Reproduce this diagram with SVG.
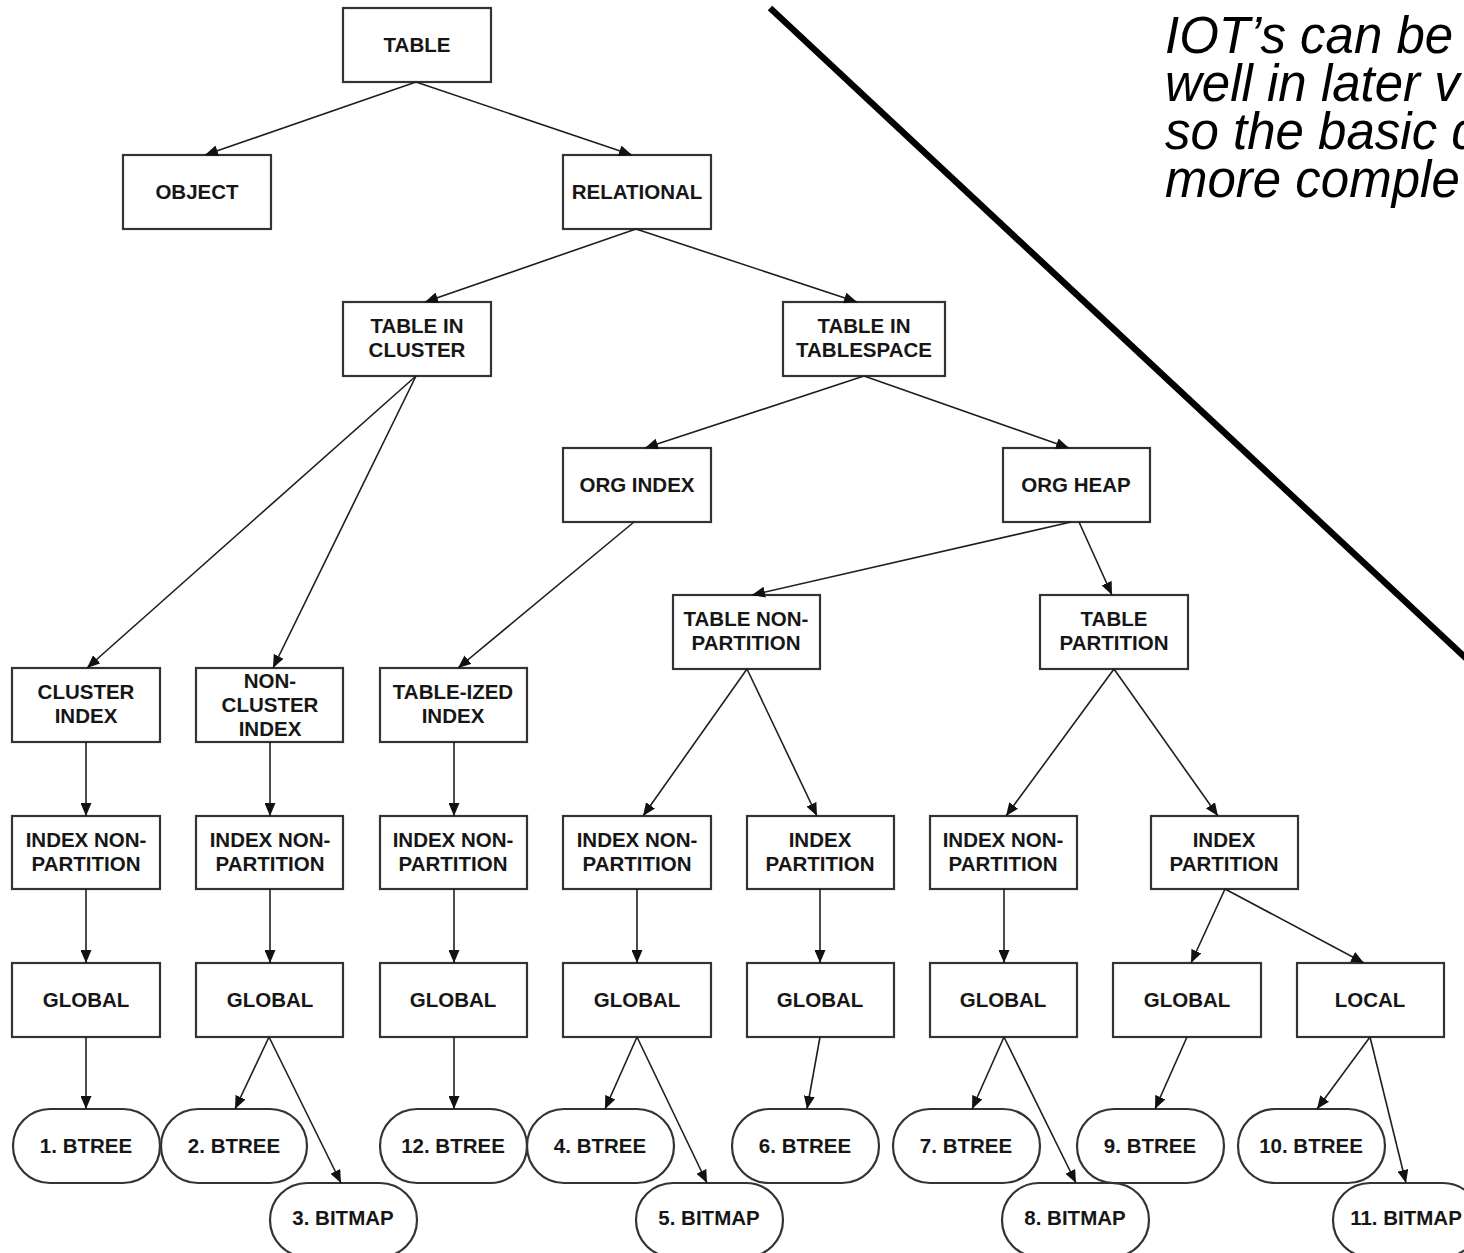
<svg xmlns="http://www.w3.org/2000/svg" width="1464" height="1253" viewBox="0 0 1464 1253">
<defs>
<style>
.n rect{fill:#fff;stroke:#333;stroke-width:2.2}
.n text{font-family:"Liberation Sans",Arial,sans-serif;font-weight:bold;font-size:20.5px;fill:#161616;text-anchor:middle}
.c line{stroke:#1e1e1e;stroke-width:1.6;marker-end:url(#ah)}
.note{font-family:"Liberation Sans",Arial,sans-serif;font-style:italic;font-size:51px;fill:#000}
</style>
<marker id="ah" viewBox="0 0 13 11" markerWidth="13" markerHeight="11" refX="13" refY="5.5" orient="auto" markerUnits="userSpaceOnUse">
<path d="M0,0 L13,5.5 L0,11 z" fill="#111"/>
</marker>
</defs>
<rect width="1464" height="1253" fill="#fff"/>

<line x1="770" y1="8" x2="1470" y2="662" stroke="#000" stroke-width="6.5"/>
<g id="note">
<text class="note"><tspan x="1165" y="53">IOT’s can be</tspan><tspan x="1165" y="101">well in later v</tspan><tspan x="1165" y="149">so the basic d</tspan><tspan x="1165" y="197">more comple</tspan></text>
</g>

<g id="n-table" class="n"><rect x="343" y="8" width="148" height="74"/><text x="417" y="52">TABLE</text></g>
<g id="n-object" class="n"><rect x="123" y="155" width="148" height="74"/><text x="197" y="199">OBJECT</text></g>
<g id="n-relational" class="n"><rect x="563" y="155" width="148" height="74"/><text x="637" y="199">RELATIONAL</text></g>
<g id="n-tic" class="n"><rect x="343" y="302" width="148" height="74"/><text x="417" y="333">TABLE IN</text><text x="417" y="357">CLUSTER</text></g>
<g id="n-tit" class="n"><rect x="783" y="302" width="162" height="74"/><text x="864" y="333">TABLE IN</text><text x="864" y="357">TABLESPACE</text></g>
<g id="n-orgindex" class="n"><rect x="563" y="448" width="148" height="74"/><text x="637" y="492">ORG INDEX</text></g>
<g id="n-orgheap" class="n"><rect x="1003" y="448" width="147" height="74"/><text x="1076" y="492">ORG HEAP</text></g>
<g id="n-tnp" class="n"><rect x="673" y="595" width="147" height="74"/><text x="746" y="626">TABLE NON-</text><text x="746" y="650">PARTITION</text></g>
<g id="n-tp" class="n"><rect x="1040" y="595" width="148" height="74"/><text x="1114" y="626">TABLE</text><text x="1114" y="650">PARTITION</text></g>

<g id="n-clusterindex" class="n"><rect x="12" y="668" width="148" height="74"/><text x="86" y="699">CLUSTER</text><text x="86" y="723">INDEX</text></g>
<g id="n-nonclusterindex" class="n"><rect x="196" y="668" width="147" height="74"/><text x="270" y="688">NON-</text><text x="270" y="712">CLUSTER</text><text x="270" y="736">INDEX</text></g>
<g id="n-tableized" class="n"><rect x="380" y="668" width="147" height="74"/><text x="453" y="699">TABLE-IZED</text><text x="453" y="723">INDEX</text></g>

<g id="n-inp1" class="n"><rect x="12" y="816" width="148" height="73"/><text x="86" y="847">INDEX NON-</text><text x="86" y="871">PARTITION</text></g>
<g id="n-inp2" class="n"><rect x="196" y="816" width="147" height="73"/><text x="270" y="847">INDEX NON-</text><text x="270" y="871">PARTITION</text></g>
<g id="n-inp3" class="n"><rect x="380" y="816" width="147" height="73"/><text x="453" y="847">INDEX NON-</text><text x="453" y="871">PARTITION</text></g>
<g id="n-inp4" class="n"><rect x="563" y="816" width="148" height="73"/><text x="637" y="847">INDEX NON-</text><text x="637" y="871">PARTITION</text></g>
<g id="n-ip1" class="n"><rect x="747" y="816" width="147" height="73"/><text x="820" y="847">INDEX</text><text x="820" y="871">PARTITION</text></g>
<g id="n-inp5" class="n"><rect x="930" y="816" width="147" height="73"/><text x="1003" y="847">INDEX NON-</text><text x="1003" y="871">PARTITION</text></g>
<g id="n-ip2" class="n"><rect x="1151" y="816" width="147" height="73"/><text x="1224" y="847">INDEX</text><text x="1224" y="871">PARTITION</text></g>

<g id="n-g1" class="n"><rect x="12" y="963" width="148" height="74"/><text x="86" y="1007">GLOBAL</text></g>
<g id="n-g2" class="n"><rect x="196" y="963" width="147" height="74"/><text x="270" y="1007">GLOBAL</text></g>
<g id="n-g3" class="n"><rect x="380" y="963" width="147" height="74"/><text x="453" y="1007">GLOBAL</text></g>
<g id="n-g4" class="n"><rect x="563" y="963" width="148" height="74"/><text x="637" y="1007">GLOBAL</text></g>
<g id="n-g5" class="n"><rect x="747" y="963" width="147" height="74"/><text x="820" y="1007">GLOBAL</text></g>
<g id="n-g6" class="n"><rect x="930" y="963" width="147" height="74"/><text x="1003" y="1007">GLOBAL</text></g>
<g id="n-g7" class="n"><rect x="1113" y="963" width="148" height="74"/><text x="1187" y="1007">GLOBAL</text></g>
<g id="n-local" class="n"><rect x="1297" y="963" width="147" height="74"/><text x="1370" y="1007">LOCAL</text></g>

<g id="n-b1" class="n"><rect x="13" y="1109" width="147" height="74" rx="37"/><text x="86" y="1153">1. BTREE</text></g>
<g id="n-b2" class="n"><rect x="161" y="1109" width="146" height="74" rx="37"/><text x="234" y="1153">2. BTREE</text></g>
<g id="n-b12" class="n"><rect x="380" y="1109" width="147" height="74" rx="37"/><text x="453" y="1153">12. BTREE</text></g>
<g id="n-b4" class="n"><rect x="527" y="1109" width="147" height="74" rx="37"/><text x="600" y="1153">4. BTREE</text></g>
<g id="n-b6" class="n"><rect x="732" y="1109" width="147" height="74" rx="37"/><text x="805" y="1153">6. BTREE</text></g>
<g id="n-b7" class="n"><rect x="893" y="1109" width="147" height="74" rx="37"/><text x="966" y="1153">7. BTREE</text></g>
<g id="n-b9" class="n"><rect x="1077" y="1109" width="147" height="74" rx="37"/><text x="1150" y="1153">9. BTREE</text></g>
<g id="n-b10" class="n"><rect x="1238" y="1109" width="147" height="74" rx="37"/><text x="1311" y="1153">10. BTREE</text></g>

<g id="n-bm3" class="n"><rect x="270" y="1183" width="147" height="74" rx="37"/><text x="343" y="1225">3. BITMAP</text></g>
<g id="n-bm5" class="n"><rect x="636" y="1183" width="147" height="74" rx="37"/><text x="709" y="1225">5. BITMAP</text></g>
<g id="n-bm8" class="n"><rect x="1002" y="1183" width="147" height="74" rx="37"/><text x="1075" y="1225">8. BITMAP</text></g>
<g id="n-bm11" class="n"><rect x="1333" y="1183" width="147" height="74" rx="37"/><text x="1406" y="1225">11. BITMAP</text></g>

<g id="connectors" class="c">
<line x1="416" y1="82" x2="205" y2="155"/>
<line x1="416" y1="82" x2="632" y2="155"/>
<line x1="636" y1="229" x2="425" y2="302"/>
<line x1="636" y1="229" x2="857" y2="302"/>
<line x1="416" y1="376" x2="87" y2="668"/>
<line x1="416" y1="376" x2="273" y2="668"/>
<line x1="864" y1="376" x2="645" y2="448"/>
<line x1="864" y1="376" x2="1069" y2="448"/>
<line x1="634" y1="522" x2="458" y2="668"/>
<line x1="1071" y1="522" x2="752" y2="595"/>
<line x1="1079" y1="522" x2="1112" y2="595"/>
<line x1="747" y1="669" x2="643" y2="816"/>
<line x1="747" y1="669" x2="817" y2="816"/>
<line x1="1114" y1="669" x2="1006" y2="816"/>
<line x1="1114" y1="669" x2="1218" y2="816"/>
<line x1="86" y1="742" x2="86" y2="816"/>
<line x1="270" y1="742" x2="270" y2="816"/>
<line x1="454" y1="742" x2="454" y2="816"/>
<line x1="86" y1="889" x2="86" y2="963"/>
<line x1="270" y1="889" x2="270" y2="963"/>
<line x1="454" y1="889" x2="454" y2="963"/>
<line x1="637" y1="889" x2="637" y2="963"/>
<line x1="820" y1="889" x2="820" y2="963"/>
<line x1="1004" y1="889" x2="1004" y2="963"/>
<line x1="1225" y1="889" x2="1191" y2="963"/>
<line x1="1225" y1="889" x2="1364" y2="963"/>
<line x1="86" y1="1037" x2="86" y2="1109"/>
<line x1="269" y1="1037" x2="235" y2="1109"/>
<line x1="269" y1="1037" x2="341" y2="1183"/>
<line x1="454" y1="1037" x2="454" y2="1109"/>
<line x1="637" y1="1037" x2="605" y2="1109"/>
<line x1="637" y1="1037" x2="707" y2="1183"/>
<line x1="820" y1="1037" x2="807" y2="1109"/>
<line x1="1004" y1="1037" x2="972" y2="1109"/>
<line x1="1004" y1="1037" x2="1076" y2="1183"/>
<line x1="1187" y1="1037" x2="1155" y2="1109"/>
<line x1="1370" y1="1037" x2="1317" y2="1109"/>
<line x1="1370" y1="1037" x2="1406" y2="1183"/>
</g>
</svg>
